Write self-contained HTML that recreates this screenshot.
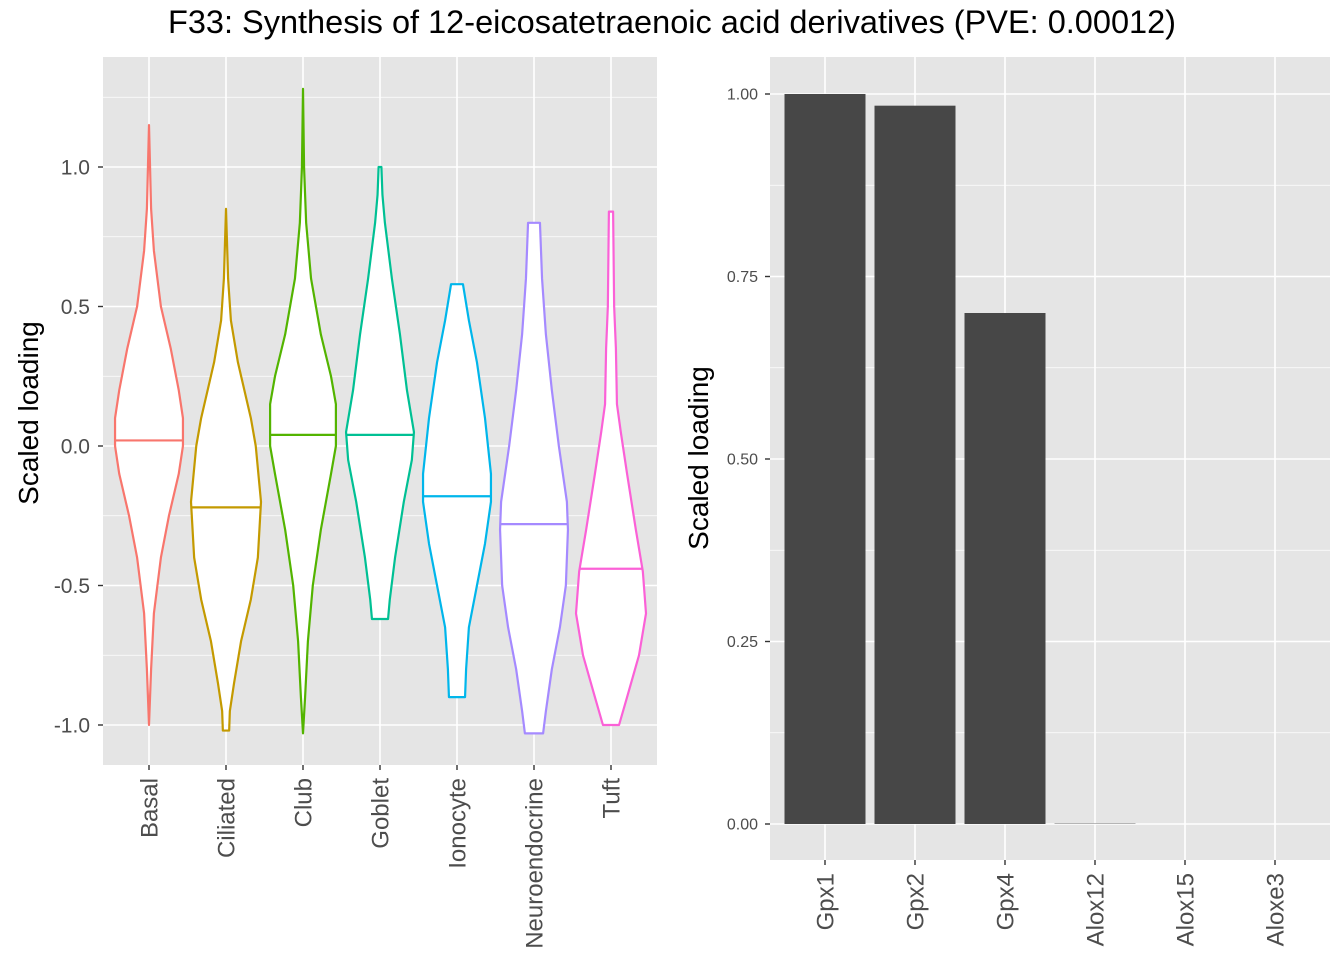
<!DOCTYPE html>
<html><head><meta charset="utf-8"><style>
body{margin:0;background:#fff;}
svg{display:block;font-family:"Liberation Sans",Arial,sans-serif;}
</style></head><body>
<svg id="chart" width="1344" height="960" xmlns="http://www.w3.org/2000/svg">
<text x="672" y="33" font-size="32.5" text-anchor="middle" fill="#000">F33: Synthesis of 12-eicosatetraenoic acid derivatives (PVE: 0.00012)</text>
<g id="left"></g>
<g id="right"></g>
<text transform="translate(38,413) rotate(-90)" font-size="28" text-anchor="middle">Scaled loading</text>
<text transform="translate(708,458) rotate(-90)" font-size="28" text-anchor="middle">Scaled loading</text>
</svg>
<script>
const NS='http://www.w3.org/2000/svg';
const cellTypes=['Basal','Ciliated','Club','Goblet','Ionocyte','Neuroendocrine','Tuft'];
const violinColors=['#F8766D','#C49A00','#53B400','#00C094','#00B6EB','#A58AFF','#FB61D7'];
const medians=[0.02,-0.22,0.04,0.04,-0.18,-0.28,-0.44];
const violinY=[
[1.15,0.85,0.7,0.5,0.35,0.2,0.1,0.0,-0.1,-0.25,-0.4,-0.6,-0.8,-1.0],
[0.85,0.6,0.45,0.3,0.1,0,-0.2,-0.4,-0.55,-0.7,-0.85,-0.95,-1.02],
[1.28,1.0,0.8,0.6,0.4,0.25,0.15,0.0,-0.1,-0.3,-0.5,-0.7,-0.9,-1.03],
[1.0,0.9,0.8,0.6,0.4,0.2,0.05,-0.05,-0.2,-0.4,-0.55,-0.62],
[0.58,0.45,0.3,0.1,-0.1,-0.2,-0.35,-0.5,-0.65,-0.8,-0.9],
[0.8,0.6,0.4,0.2,0,-0.2,-0.3,-0.5,-0.65,-0.8,-0.95,-1.03],
[0.84,0.5,0.35,0.15,0.05,-0.1,-0.3,-0.45,-0.6,-0.75,-0.9,-1.0]];
const violinDensity=[
[0,0.06,0.14,0.34,0.62,0.85,0.97,0.97,0.85,0.57,0.34,0.14,0.06,0],
[0,0.06,0.14,0.34,0.71,0.85,1.0,0.91,0.71,0.43,0.23,0.11,0.09],
[0,0.03,0.09,0.23,0.51,0.8,0.94,0.94,0.8,0.51,0.28,0.14,0.06,0],
[0.04,0.07,0.14,0.34,0.57,0.77,0.97,0.91,0.68,0.43,0.28,0.23],
[0.17,0.34,0.57,0.8,0.97,0.97,0.8,0.57,0.34,0.26,0.23],
[0.17,0.23,0.34,0.51,0.71,0.94,0.97,0.91,0.74,0.51,0.34,0.26],
[0.06,0.09,0.14,0.17,0.28,0.46,0.71,0.91,1.0,0.8,0.46,0.23]];
const leftTicks=[-1.0,-0.5,0.0,0.5,1.0];
const leftTickLabels=['-1.0','-0.5','0.0','0.5','1.0'];
const genes=['Gpx1','Gpx2','Gpx4','Alox12','Alox15','Aloxe3'];
const loadings=[1.0,0.984,0.70,0.0005,0,0];
const rightTicks=[0,0.25,0.5,0.75,1.0];
const rightTickLabels=['0.00','0.25','0.50','0.75','1.00'];

function el(p,t,a){const e=document.createElementNS(NS,t);for(const k in a)e.setAttribute(k,a[k]);p.appendChild(e);return e;}
const BG='#E5E5E5',TXT='#4D4D4D';

// left panel
const L={x0:103,x1:657,y0:57,y1:765};
const ly=v=>446-v*279;
const lx=i=>149+i*77;
const maxHalf=35;
const lg=document.getElementById('left');
const lbg=el(lg,'rect',{x:L.x0,y:L.y0,width:L.x1-L.x0,height:L.y1-L.y0,fill:BG});

for(let v=-1.25;v<=1.3;v+=0.5){const y=ly(v);if(y>L.y0&&y<L.y1){const g=el(lg,'line',{x1:L.x0,x2:L.x1,y1:y,y2:y,stroke:'#fff','stroke-width':0.8});}}
leftTicks.forEach((v,i)=>{const y=ly(v);
const g=el(lg,'line',{x1:L.x0,x2:L.x1,y1:y,y2:y,stroke:'#fff','stroke-width':1.6});
const t=el(lg,'line',{x1:L.x0-5,x2:L.x0,y1:y,y2:y,stroke:'#333','stroke-width':1.4});
const tx=el(lg,'text',{x:L.x0-13,y:y+7.5,'font-size':21,'text-anchor':'end',fill:TXT});tx.textContent=leftTickLabels[i];});
cellTypes.forEach((c,i)=>{const x=lx(i);
const g=el(lg,'line',{x1:x,x2:x,y1:L.y0,y2:L.y1,stroke:'#fff','stroke-width':1.6});
const t=el(lg,'line',{x1:x,x2:x,y1:L.y1,y2:L.y1+5,stroke:'#333','stroke-width':1.4});
const tx=el(lg,'text',{transform:`translate(${x+8.5},${L.y1+13}) rotate(-90)`,'font-size':24,'text-anchor':'end',fill:TXT});tx.textContent=c;
const ys=violinY[i],ds=violinDensity[i];
let pts=[];for(let k=0;k<ys.length;k++)pts.push([x+ds[k]*maxHalf,ly(ys[k])]);
for(let k=ys.length-1;k>=0;k--)pts.push([x-ds[k]*maxHalf,ly(ys[k])]);
const p=el(lg,'polygon',{points:pts.map(q=>q.join(',')).join(' '),fill:'#fff',stroke:violinColors[i],'stroke-width':2.2,'stroke-linejoin':'round'});

const m=medians[i];let w=0;for(let k=0;k<ys.length-1;k++){if(m<=ys[k]&&m>=ys[k+1]){const f=(ys[k]-m)/(ys[k]-ys[k+1]);w=ds[k]+(ds[k+1]-ds[k])*f;}}
const ml=el(lg,'line',{x1:x-w*maxHalf,x2:x+w*maxHalf,y1:ly(m),y2:ly(m),stroke:violinColors[i],'stroke-width':2.2});
});

// right panel
const R={x0:770,x1:1330,y0:57,y1:860};
const ry=v=>824-v*730;
const rx=i=>825+i*90;
const rg=document.getElementById('right');
const rbg=el(rg,'rect',{x:R.x0,y:R.y0,width:R.x1-R.x0,height:R.y1-R.y0,fill:BG});

for(let v=-0.125;v<=1.05;v+=0.25){const y=ry(v);if(y>R.y0&&y<R.y1){const g=el(rg,'line',{x1:R.x0,x2:R.x1,y1:y,y2:y,stroke:'#fff','stroke-width':0.8});}}
rightTicks.forEach((v,i)=>{const y=ry(v);
const g=el(rg,'line',{x1:R.x0,x2:R.x1,y1:y,y2:y,stroke:'#fff','stroke-width':1.6});
const t=el(rg,'line',{x1:R.x0-5,x2:R.x0,y1:y,y2:y,stroke:'#333','stroke-width':1.4});
const tx=el(rg,'text',{x:R.x0-12,y:y+5.5,'font-size':16,'text-anchor':'end',fill:TXT});tx.textContent=rightTickLabels[i];});
genes.forEach((gname,i)=>{const x=rx(i);
const g=el(rg,'line',{x1:x,x2:x,y1:R.y0,y2:R.y1,stroke:'#fff','stroke-width':1.6});
const t=el(rg,'line',{x1:x,x2:x,y1:R.y1,y2:R.y1+5,stroke:'#333','stroke-width':1.4});
const tx=el(rg,'text',{transform:`translate(${x+8.5},${R.y1+13}) rotate(-90)`,'font-size':24,'text-anchor':'end',fill:TXT});tx.textContent=gname;
const v=loadings[i];if(v>0){const b=el(rg,'rect',{x:x-40.5,width:81,y:ry(v),height:ry(0)-ry(v),fill:'#474747'});
}});
</script>
</body></html>
